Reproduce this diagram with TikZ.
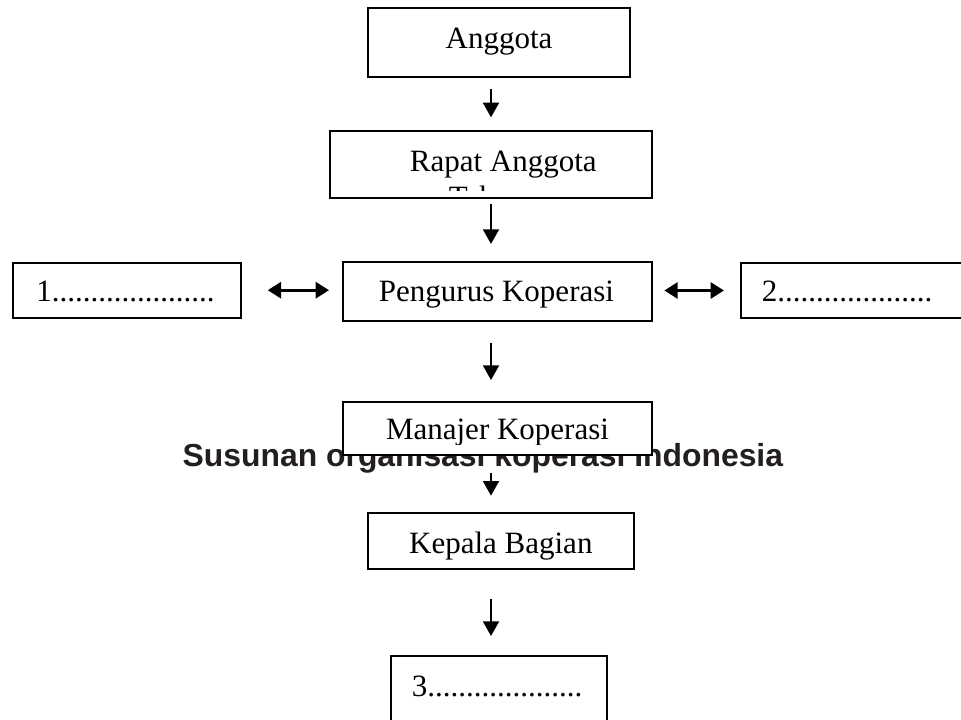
\documentclass[tikz,border=0pt]{standalone}
\usepackage{fontspec}
\setmainfont{Liberation Serif}
\setsansfont{Liberation Sans}
\usetikzlibrary{arrows.meta}
\definecolor{titlegray}{RGB}{35,31,32}
\begin{document}
\begin{tikzpicture}[x=0.75pt,y=-0.75pt,
  box/.style={draw=black, line width=1.5pt, fill=white, rectangle, inner sep=0pt},
  lbl/.style={inner sep=0pt, font=\fontsize{23.25}{27.4}\selectfont},
  arr/.style={line width=1.4pt, -{Triangle[length=11pt,width=12pt]}},
  darr/.style={line width=2.2pt, {Triangle[length=10pt,width=12pt]}-{Triangle[length=10pt,width=12pt]}},
  titlestyle/.style={inner sep=0pt, anchor=base, text=titlegray, font=\sffamily\bfseries\fontsize{23.9}{27}\selectfont}
]
\path[use as bounding box, fill=white] (0,0) rectangle (961,720);
\coordinate (axis) at (491,0);

% boxes
\node[box, minimum width=196.5pt, minimum height=52pt] (anggota) at (499,42.65) {};
\node[box, minimum width=241.5pt, minimum height=50.5pt] (rapat) at (491,164.65) {};
\node[box, minimum width=171pt, minimum height=41.25pt] (box1) at (126.7,290.2) {};
\node[box, minimum width=231.4pt, minimum height=43.9pt] (pengurus) at (497.75,291.25) {};
\node[box, minimum width=171pt, minimum height=41.7pt] (box2) at (854.7,290.5) {};
\node[box, minimum width=199.5pt, minimum height=41.8pt] (kepala) at (501.3,541.15) {};
\node[box, minimum width=162.2pt, minimum height=63pt] (box3) at (498.85,698) {};

% texts
\node[lbl, anchor=base] (anggotaT) at (499,48.3) {Anggota};
\node[lbl, anchor=base] (rapatT) at (503.3,171.7) {Rapat Anggota};
\begin{scope}
  \clip (331,131) rectangle (651,190.5);
  \node[lbl, anchor=base] (tahunanT) at (502,208) {Tahunan};
\end{scope}
\node[lbl, anchor=base west] (box1T) at (36,302) {1.....................};
\node[lbl, anchor=base] (pengurusT) at (496.5,302) {Pengurus Koperasi};
\node[lbl, anchor=base west] (box2T) at (761.7,302) {2....................};
\node[lbl, anchor=base] (kepalaT) at (500.8,553.3) {Kepala Bagian};
\node[lbl, anchor=base west] (box3T) at (411.7,696) {3....................};

% title (partly covered by the Manajer box)
\node[titlestyle] (title) at (482.9,466.7) {Susunan organisasi koperasi Indonesia};

\node[box, minimum width=231.75pt, minimum height=40pt] (manajer) at (497.8,428.35) {};
\begin{scope}
  \clip (344,402) rectangle (652,444);
  \node[lbl, anchor=base] (manajerT) at (497.5,440) {Manajer Koperasi};
\end{scope}

% connectors
\draw[arr, shorten <=8pt, shorten >=9.5pt] (anggota.south -| axis) -- (rapat.north -| axis);
\draw[arr, shorten <=3.75pt, shorten >=12.75pt] (rapat.south -| axis) -- (pengurus.north -| axis);
\draw[arr, shorten <=15.9pt, shorten >=15.5pt] (pengurus.south -| axis) -- (manajer.north -| axis);
\draw[arr, shorten <=12.5pt, shorten >=12.45pt] (manajer.south -| axis) -- (kepala.north -| axis);
\draw[arr, shorten <=21.75pt, shorten >=14.25pt] (kepala.south -| axis) -- (box3.north -| axis);
\draw[darr, shorten <=19.5pt, shorten >=10.1pt] (box1.east) -- (box1.east -| pengurus.west);
\draw[darr, shorten <=8.5pt, shorten >=11.8pt] (pengurus.east |- box2.west) -- (box2.west);
\end{tikzpicture}
\end{document}
